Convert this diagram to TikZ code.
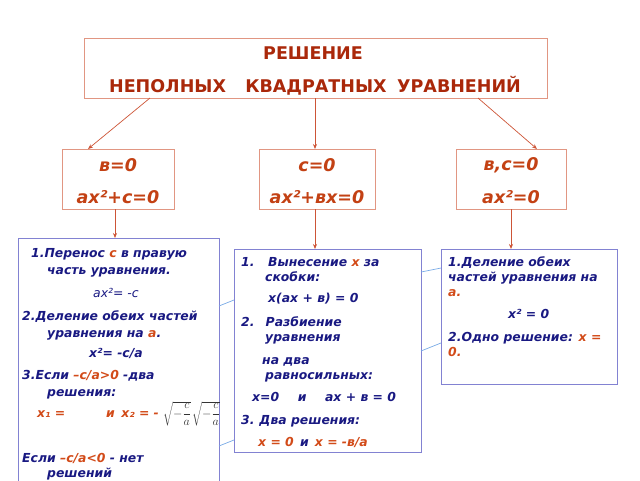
\documentclass[tikz,border=0pt]{standalone}
\usepackage{fontspec}
\setmainfont{DejaVu Sans}
\usetikzlibrary{arrows.meta}
\definecolor{titlered}{RGB}{170,40,10}
\definecolor{boxred}{RGB}{195,65,20}
\definecolor{hl}{RGB}{210,75,25}
\definecolor{dblue}{RGB}{25,25,130}
\definecolor{salmon}{RGB}{225,150,130}
\definecolor{arrowc}{RGB}{205,85,55}
\definecolor{bborder}{RGB}{130,130,210}
\definecolor{lblue}{RGB}{120,170,230}
\tikzset{
  sbox/.style={draw=salmon, line width=0.9pt},
  bbox/.style={draw=bborder, line width=0.9pt},
  conn/.style={draw=arrowc, line width=0.7pt, -{Stealth[length=5pt,width=4pt]}},
  lconn/.style={draw=lblue, line width=0.7pt},
  ttl/.style={font=\fontsize{17.5}{17.5}\selectfont\bfseries, text=titlered, inner sep=0pt},
  cond/.style={font=\fontsize{17.5}{17.5}\selectfont\bfseries\itshape, text=boxred, inner sep=0pt},
  ln/.style={font=\fontsize{12.4}{12.4}\selectfont\bfseries\itshape, text=dblue, inner sep=0pt, anchor=base west},
  lnr/.style={ln, text=hl},
  mth/.style={inner sep=0pt, anchor=base west, text=black!80, font=\fontsize{11.5}{11.5}\selectfont},
}
\begin{document}
\begin{tikzpicture}[x=1pt,y=-1pt]
\useasboundingbox (0,0) rectangle (640,480);
% title
\node[sbox, minimum width=463pt, minimum height=60pt, anchor=north west] (title) at (84,38) {};
\node[ttl] (t1) at (313,53) {РЕШЕНИЕ};
\node[ttl] (t2) at (315,86) {НЕПОЛНЫХ\hspace{1.1em}КВАДРАТНЫХ\hspace{0.6em}УРАВНЕНИЙ};
% condition boxes
\node[sbox, minimum width=112pt, minimum height=60pt, anchor=north west] (ca) at (62,149) {};
\node[sbox, minimum width=116pt, minimum height=60pt, anchor=north west] (cb) at (259,149) {};
\node[sbox, minimum width=110pt, minimum height=60pt, anchor=north west] (cc) at (456,149) {};
\node[cond] (ca1) at (118,165) {в=0};
\node[cond] (ca2) at (118,197) {ax²+c=0};
\node[cond] (cb1) at (317,165) {c=0};
\node[cond] (cb2) at (317,197) {ax²+вx=0};
\node[cond] (cc1) at (511,165) {в,c=0};
\node[cond] (cc2) at (511,197) {ax²=0};
% solution boxes
\node[bbox, minimum width=201pt, minimum height=250pt, anchor=north west] (la) at (18,238) {};
\node[bbox, minimum width=187pt, minimum height=203pt, anchor=north west] (lb) at (234,249) {};
\node[bbox, minimum width=176pt, minimum height=135pt, anchor=north west] (lc) at (441,249) {};
% arrows
\coordinate (s1) at (150,98); \coordinate (e1) at (88,149);
\coordinate (s2) at (315,98); \coordinate (e2) at (315,149);
\coordinate (s3) at (478,98); \coordinate (e3) at (537,149);
\draw[conn] (s1) -- (e1);
\draw[conn] (s2) -- (e2);
\draw[conn] (s3) -- (e3);
\coordinate (d1) at (115,209); \coordinate (f1) at (115,238);
\coordinate (d2) at (315,209); \coordinate (f2) at (315,249);
\coordinate (d3) at (511,209); \coordinate (f3) at (511,249);
\draw[conn] (d1) -- (f1);
\draw[conn] (d2) -- (f2);
\draw[conn] (d3) -- (f3);
% light blue lines
\coordinate (p1) at (219,306); \coordinate (q1) at (234,300);
\coordinate (p2) at (219,446); \coordinate (q2) at (234,440);
\coordinate (p3) at (421,272); \coordinate (q3) at (441,268);
\coordinate (p4) at (421,351); \coordinate (q4) at (441,343);
\draw[lconn] (p1) -- (q1);
\draw[lconn] (p2) -- (q2);
\draw[lconn] (p3) -- (q3);
\draw[lconn] (p4) -- (q4);
% left box text
\node[ln] (a1) at (31,257) {1.Перенос \textcolor{hl}{c} в правую};
\node[ln] (a2) at (47,274) {часть уравнения.};
\node[ln, font=\fontsize{12.4}{12.4}\selectfont\itshape] (a3) at (93,297) {ax²= -c};
\node[ln] (a4) at (22,320) {2.Деление обеих частей};
\node[ln] (a5) at (47,337) {уравнения на \textcolor{hl}{a}.};
\node[ln] (a6) at (89,357) {x²= -c/a};
\node[ln] (a7) at (22,379) {3.Если \textcolor{hl}{–c/a>0} -два};
\node[ln] (a8) at (47,396) {решения:};
\node[lnr] (a9) at (37,417) {x₁ =};
\node[lnr] (a10) at (106,417) {и\, x₂ = -};
\node[mth] (a11) at (163,417) {$\sqrt{-\displaystyle\frac{c}{a}}$};
\node[mth] (a12) at (192,417) {$\sqrt{-\displaystyle\frac{c}{a}}$};
\node[ln] (a13) at (22,462) {Если \textcolor{hl}{–c/a<0} - нет};
\node[ln] (a14) at (47,477) {решений};
% middle box text
\node[ln] (b1) at (241,266) {1.\hspace{1.1em}Вынесение \textcolor{hl}{x} за};
\node[ln] (b2) at (265,281) {скобки:};
\node[ln] (b3) at (268,302) {x(ax + в) = 0};
\node[ln] (b4) at (241,326) {2.\hspace{0.9em}Разбиение};
\node[ln] (b5) at (265,341) {уравнения};
\node[ln] (b6) at (262,364) {на два};
\node[ln] (b7) at (265,379) {равносильных:};
\node[ln] (b8) at (252,401) {x=0\hspace{1.5em}и\hspace{1.5em}ax + в = 0};
\node[ln] (b9) at (241,424) {3.\hspace{0.4em}Два решения:};
\node[lnr] (b10) at (258,446) {x = 0\hspace{0.5em}\textcolor{dblue}{и}\hspace{0.5em}x = -в/а};
% right box text
\node[ln] (c1) at (448,266) {1.Деление обеих};
\node[ln] (c2) at (448,281) {частей уравнения на};
\node[lnr] (c3) at (448,296) {a.};
\node[ln] (c4) at (508,318) {x² = 0};
\node[ln] (c5) at (448,341) {2.Одно решение: \textcolor{hl}{x =}};
\node[lnr] (c6) at (448,356) {0.};
\end{tikzpicture}
\end{document}
